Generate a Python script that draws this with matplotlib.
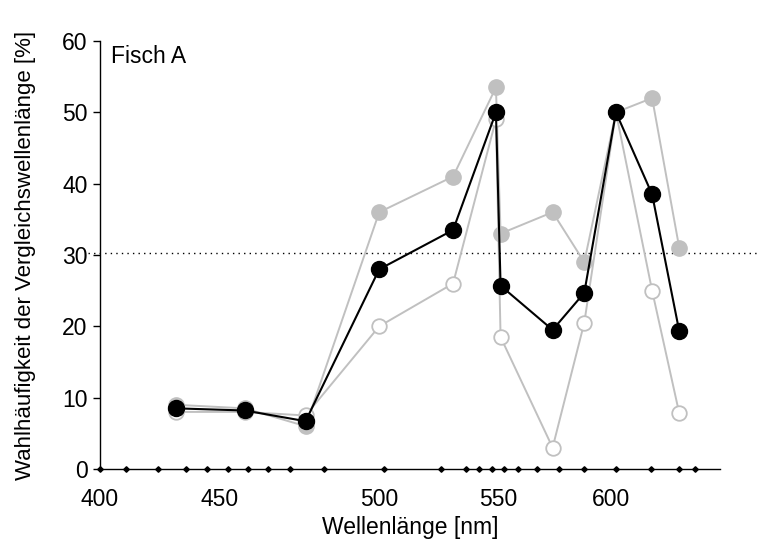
import numpy as np
import matplotlib.pyplot as plt

plt.rcParams['font.family'] = ['Liberation Sans', 'DejaVu Sans']

# Wavelengths (nm) of the tested comparison stimuli
wavelength = [432, 458, 477, 500, 531, 549, 551, 574, 588, 602, 618, 630]

# Choice frequency [%]
mean_vals = [8.5, 8.2, 6.7, 28.0, 33.5, 50.0, 25.7, 19.5, 24.7, 50.0, 38.5, 19.3]
upper_vals = [9.0, 8.5, 6.0, 36.0, 41.0, 53.5, 33.0, 36.0, 29.0, 50.0, 52.0, 31.0]
lower_vals = [8.0, 8.0, 7.5, 20.0, 26.0, 49.0, 18.5, 3.0, 20.5, 50.0, 25.0, 7.8]

chance_level = 30.3

# Wavelengths marked along the x axis
axis_marks = [400, 410.8, 424.5, 436.0, 445.1, 452.7, 459.1, 465.4, 472.2, 482.6,
              502.2, 526.1, 536.6, 541.9, 547.3, 552.3, 558.7, 567.1, 576.7,
              588.1, 602.2, 617.7, 629.8, 636.9]

# piecewise spacing of the wavelength axis
scale_nm = [300, 400, 450, 500, 550, 600, 650, 700]
scale_pos = [-238, 0, 119, 279, 398, 511, 624, 737]


def fwd(x):
    return np.interp(x, scale_nm, scale_pos)


def inv(p):
    return np.interp(p, scale_pos, scale_nm)


fig = plt.figure(figsize=(7.57, 5.39), dpi=100)
ax = fig.add_axes([0.1321, 0.1299, 0.8190, 0.7940])
ax.set_xscale('function', functions=(fwd, inv))

grey = '#c0c0c0'
ax.plot(wavelength, upper_vals, '-o', color=grey, lw=1.4, ms=11,
        mfc=grey, mec=grey, zorder=3)
ax.plot(wavelength, lower_vals, '-o', color=grey, lw=1.4, ms=10.5,
        mfc='white', mec=grey, mew=1.3, zorder=3)
ax.plot(wavelength, mean_vals, '-o', color='black', lw=1.5, ms=11.5,
        mfc='black', mec='black', zorder=4)

ax.axhline(chance_level, xmin=-0.02, xmax=1.07, color='black', lw=1,
           ls=(0, (1, 3)), clip_on=False, zorder=2)

ax.plot(axis_marks, np.zeros(len(axis_marks)), 'D', color='black', ms=2.8,
        clip_on=False, zorder=5)

ax.set_xlim(400, 648)
ax.set_ylim(0, 60)
ax.set_xticks([400, 450, 500, 550, 600])
ax.set_yticks(range(0, 61, 10))
ax.tick_params(axis='x', length=0, pad=14, labelsize=16.5)
ax.tick_params(axis='y', length=5, width=1, direction='out', pad=4,
               labelsize=16.5)

for side in ['top', 'right']:
    ax.spines[side].set_visible(False)
ax.spines['left'].set_linewidth(1)
ax.spines['bottom'].set_linewidth(1)

ax.text(0.018, 0.99, 'Fisch A', transform=ax.transAxes, fontsize=16.5,
        ha='left', va='top')

ax.set_xlabel('Wellenlänge [nm]', fontsize=16.5, labelpad=3)
ax.set_ylabel('Wahlhäufigkeit der Vergleichswellenlänge [%]', fontsize=16,
              labelpad=19)

fig.savefig('out.png', dpi=100)
